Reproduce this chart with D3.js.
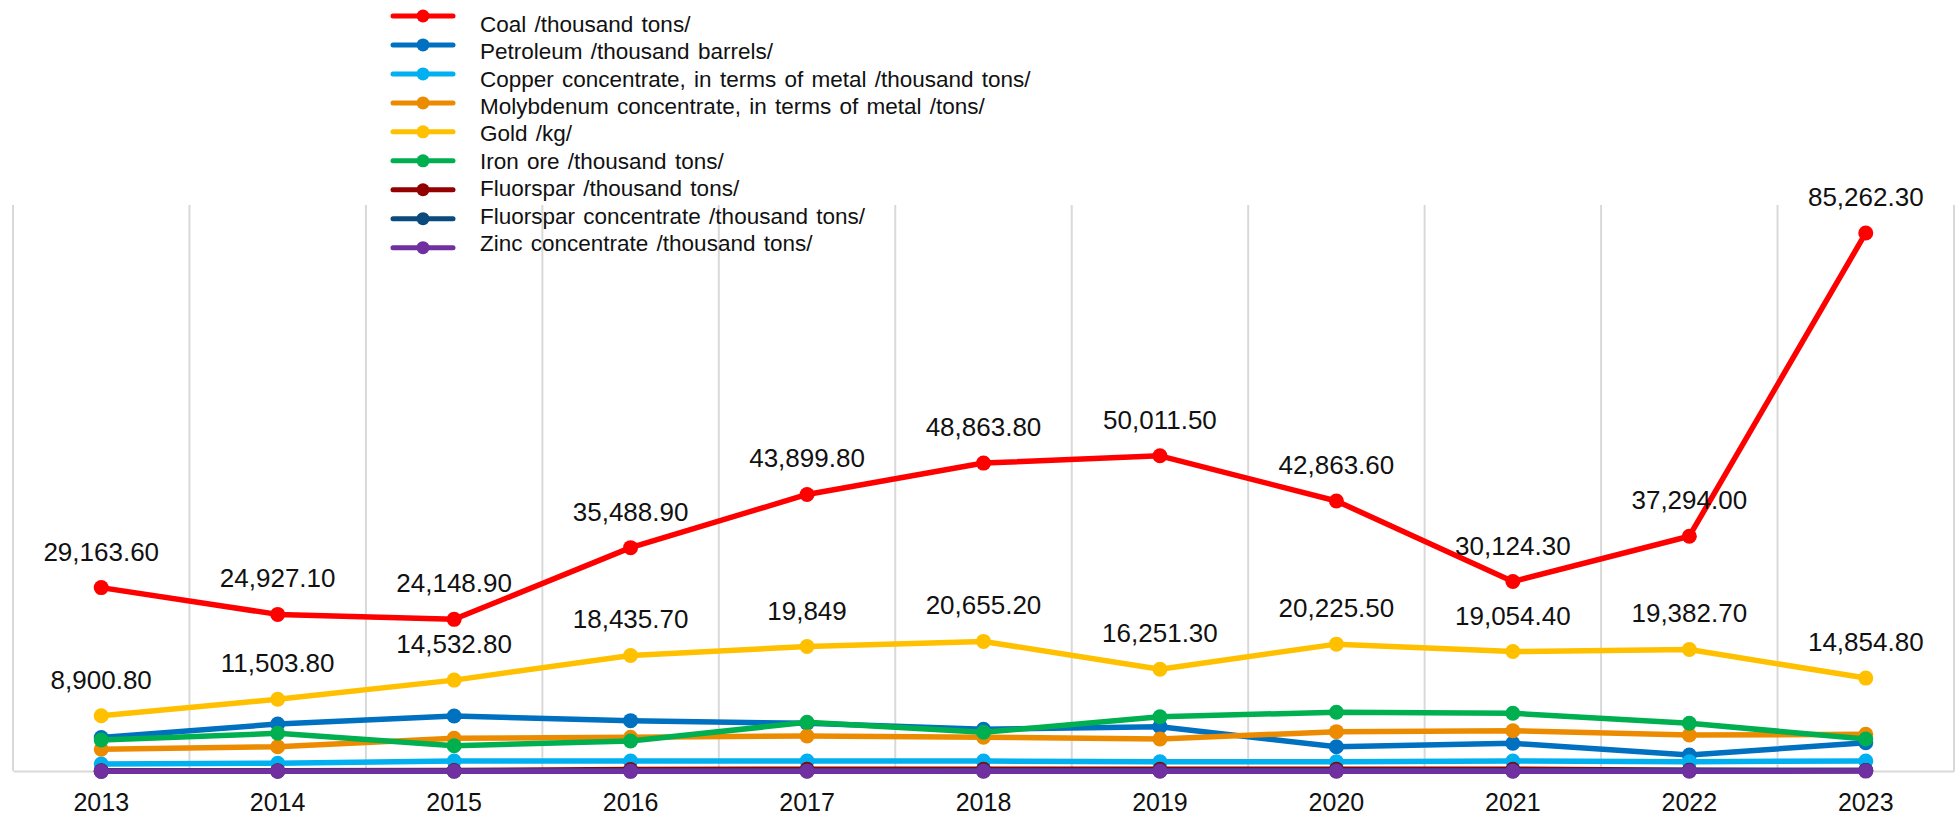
<!DOCTYPE html>
<html>
<head>
<meta charset="utf-8">
<script src="https://cdn.jsdelivr.net/npm/d3@7/dist/d3.min.js"></script>
<style>
  html, body { margin: 0; padding: 0; background: #ffffff; }
  svg { display: block; font-family: "Liberation Sans", Arial, sans-serif; }
</style>
</head>
<body>
<svg id="chart" width="1958" height="818"></svg>
<script>
// Mining output by year
const years = ["2013", "2014", "2015", "2016", "2017", "2018", "2019", "2020", "2021", "2022", "2023"];

const coal = [29163.6, 24927.1, 24148.9, 35488.9, 43899.8, 48863.8, 50011.5, 42863.6, 30124.3, 37294.0, 85262.3];
const coalLabels = ["29,163.60", "24,927.10", "24,148.90", "35,488.90", "43,899.80", "48,863.80", "50,011.50", "42,863.60", "30,124.30", "37,294.00", "85,262.30"];

const petroleum = [5460, 7590, 8860, 8120, 7700, 6760, 7170, 4000, 4540, 2690, 4640];
const copper = [1270, 1380, 1740, 1740, 1740, 1740, 1630, 1630, 1740, 1630, 1740];
const molybdenum = [3590, 4000, 5330, 5490, 5700, 5490, 5220, 6380, 6530, 5850, 5960];

const gold = [8900.8, 11503.8, 14532.8, 18435.7, 19849, 20655.2, 16251.3, 20225.5, 19054.4, 19382.7, 14854.8];
const goldLabels = ["8,900.80", "11,503.80", "14,532.80", "18,435.70", "19,849", "20,655.20", "16,251.30", "20,225.50", "19,054.40", "19,382.70", "14,854.80"];

const ironOre = [5060, 6120, 4160, 4900, 7860, 6280, 8750, 9450, 9290, 7700, 5220];
const fluorspar = [180, 200, 220, 400, 430, 440, 440, 440, 440, 260, 250];
const fluorsparConc = [120, 130, 140, 160, 170, 180, 190, 180, 180, 220, 230];
const zinc = [100, 110, 110, 100, 110, 120, 120, 110, 110, 130, 140];

const seriesNames = [
  "Coal /thousand tons/",
  "Petroleum /thousand barrels/",
  "Copper concentrate, in terms of metal /thousand tons/",
  "Molybdenum concentrate, in terms of metal /tons/",
  "Gold /kg/",
  "Iron ore /thousand tons/",
  "Fluorspar /thousand tons/",
  "Fluorspar concentrate /thousand tons/",
  "Zinc concentrate /thousand tons/"
];
const seriesColors = ["#ff0000", "#0070c0", "#00b0f0", "#ed8b00", "#ffc000", "#00b050", "#920000", "#0b4a7d", "#7030a0"];
const seriesValues = [coal, petroleum, copper, molybdenum, gold, ironOre, fluorspar, fluorsparConc, zinc];
const seriesLabels = [coalLabels, null, null, null, goldLabels, null, null, null, null];

const series = seriesNames.map((name, i) => ({
  name,
  color: seriesColors[i],
  values: seriesValues[i],
  labels: seriesLabels[i]
}));

const svg = d3.select("#chart");

const x = d3.scaleBand().domain(years).range([13, 1954]).paddingInner(0).paddingOuter(0);
const y = d3.scaleLinear().domain([0, 90000]).range([772, 203]);
const cx = d => x(d) + x.bandwidth() / 2;

// vertical gridlines at category boundaries
const bounds = years.map(d => x(d)).concat([x.range()[1]]);
svg.append("g")
  .selectAll("line")
  .data(bounds)
  .join("line")
  .attr("x1", d => d).attr("x2", d => d)
  .attr("y1", 205).attr("y2", 771)
  .attr("stroke", "#d9d9d9")
  .attr("stroke-width", 2);

// category axis
const axis = svg.append("g")
  .attr("transform", "translate(0,771)")
  .call(d3.axisBottom(x).tickSize(0));
axis.select(".domain").attr("stroke", "#d9d9d9").attr("stroke-width", 2);
axis.selectAll(".tick text")
  .attr("y", 40)
  .attr("dy", null)
  .attr("fill", "#111")
  .style("font-size", "25px")
  .style("font-family", "'Liberation Sans', Arial, sans-serif");

const line = d3.line()
  .x((d, i) => cx(years[i]))
  .y(d => y(d));

const plot = svg.append("g");
series.forEach(s => {
  const g = plot.append("g");
  g.append("path")
    .datum(s.values)
    .attr("d", line)
    .attr("fill", "none")
    .attr("stroke", s.color)
    .attr("stroke-width", 5.5)
    .attr("stroke-linejoin", "round");
  g.selectAll("circle")
    .data(s.values)
    .join("circle")
    .attr("cx", (d, i) => cx(years[i]))
    .attr("cy", d => y(d))
    .attr("r", 7.5)
    .attr("fill", s.color);
});

// value labels for the series that carry them
series.filter(s => s.labels).forEach(s => {
  svg.append("g")
    .selectAll("text")
    .data(s.values)
    .join("text")
    .attr("x", (d, i) => cx(years[i]))
    .attr("y", d => y(d) - 27)
    .attr("text-anchor", "middle")
    .attr("fill", "#111")
    .style("font-size", "26px")
    .text((d, i) => s.labels[i]);
});

// legend
const legend = svg.append("g");
series.forEach((s, i) => {
  const my = 16 + i * 28.96;
  const ty = 23.7 + i * 27.4;
  legend.append("line")
    .attr("x1", 393).attr("x2", 453)
    .attr("y1", my).attr("y2", my)
    .attr("stroke", s.color)
    .attr("stroke-width", 5)
    .attr("stroke-linecap", "round");
  legend.append("circle")
    .attr("cx", 423).attr("cy", my).attr("r", 6.5)
    .attr("fill", s.color);
  legend.append("text")
    .attr("x", 480).attr("y", ty)
    .attr("dy", "0.36em")
    .attr("fill", "#111")
    .style("font-size", "22.5px")
    .style("word-spacing", "2px")
    .text(s.name);
});
</script>
</body>
</html>
